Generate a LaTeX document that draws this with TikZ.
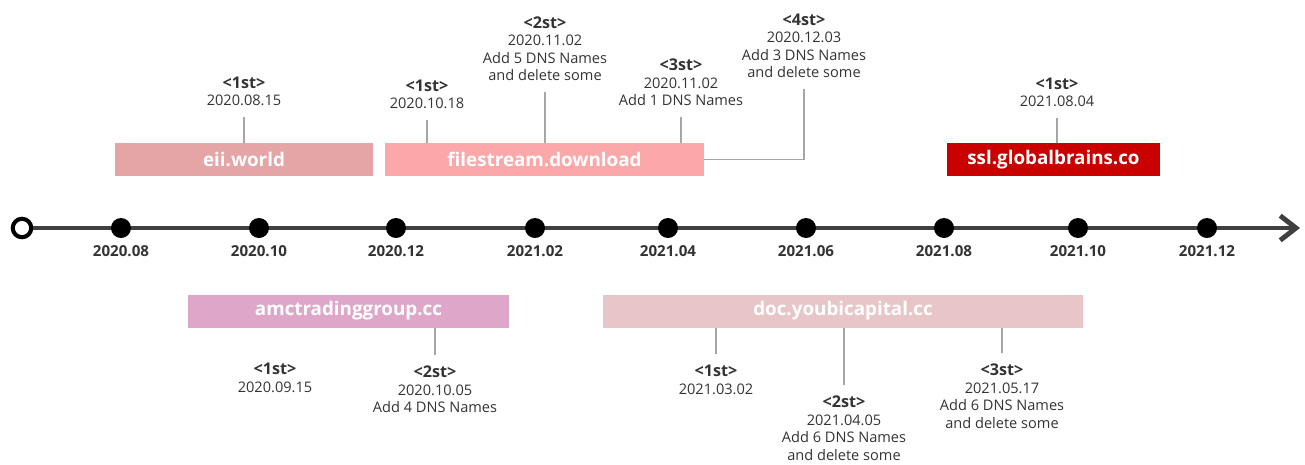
\documentclass[tikz,border=0pt]{standalone}
\usepackage{fontspec}
\setmainfont{Open Sans}
\usetikzlibrary{arrows.meta}

\definecolor{axisgray}{HTML}{404040}
\definecolor{tickgray}{HTML}{A6A6A6}
\definecolor{textgray}{HTML}{333333}
\definecolor{eiicol}{HTML}{E5A5A7}
\definecolor{fscol}{HTML}{FDA8A8}
\definecolor{sslcol}{HTML}{C80000}
\definecolor{amccol}{HTML}{DEA7C9}
\definecolor{doccol}{HTML}{E8C6C8}

\newcommand{\evhead}[1]{{\bfseries\fontsize{9.2}{10}\selectfont #1}}

\tikzset{
  domain/.style={fill=#1, text=white, inner sep=0pt, minimum height=0.66cm,
    font=\bfseries\fontsize{10.7}{12}\selectfont},
  event/.style={align=center, text=textgray, inner xsep=1pt, inner ysep=6pt,
    font=\fontsize{8.3}{10}\selectfont},
  tick/.style={draw=tickgray, line width=0.85pt},
  month/.style={circle, fill=black, inner sep=0pt, minimum size=0.4cm},
  monthlab/.style={text=textgray, inner sep=1pt, font=\bfseries\fontsize{8.6}{10}\selectfont}
}

\begin{document}
\begin{tikzpicture}[x=0.02cm, y=-0.02cm]

\path [use as bounding box] (0,0) rectangle (1305,464);

% AXIS
\node [circle, draw=black, fill=white, line width=2.3pt, inner sep=0pt, minimum size=0.37cm] (t0) at (22,228) {};
\coordinate (tend) at (1300,228);
\draw [axisgray, line width=2.8pt, -{Straight Barb[length=9pt, width=14pt]}] (t0) -- (tend);
\foreach \x/\m [count=\i] in {121/2020.08, 259/2020.10, 396/2020.12, 535/2021.02, 668/2021.04,
  806/2021.06, 944/2021.08, 1078/2021.10, 1207/2021.12}
  \node [month, label={[monthlab, label distance=3pt]below:\m}] (m\i) at (\x,228) {};

% DOMAINS
\node [domain=eiicol, minimum width=5.16cm] (eii) at (244,159.5) {eii.world};
\node [domain=fscol, minimum width=6.38cm] (fs) at (544.5,159.5) {filestream.download};
\node [domain=sslcol, minimum width=4.26cm] (ssl) at (1053.5,159.5) {ssl.globalbrains.co};
\node [domain=amccol, minimum width=6.42cm] (amc) at (348.5,311) {amctradinggroup.cc};
\node [domain=doccol, minimum width=9.6cm] (doc) at (843,311) {doc.youbicapital.cc};

% EVENTS ABOVE
\node [event, anchor=south] (eii1) at (244,117) {\evhead{<1st>}\\2020.08.15};
\node [event, anchor=south] (fs1) at (427,120) {\evhead{<1st>}\\2020.10.18};
\node [event, anchor=south] (fs2) at (545,92) {\evhead{<2st>}\\2020.11.02\\Add 5 DNS Names\\and delete some};
\node [event, anchor=south] (fs3) at (681,117) {\evhead{<3st>}\\2020.11.02\\Add 1 DNS Names};
\node [event, anchor=south] (fs4) at (804,89) {\evhead{<4st>}\\2020.12.03\\Add 3 DNS Names\\and delete some};
\node [event, anchor=south] (ssl1) at (1057,118) {\evhead{<1st>}\\2021.08.04};

\draw [tick] (eii1.south) -- (eii1.south |- eii.north);
\draw [tick] (fs1.south) -- (fs1.south |- fs.north);
\draw [tick] (fs2.south) -- (fs2.south |- fs.north);
\draw [tick] (fs3.south) -- (fs3.south |- fs.north);
\draw [tick] (fs.east) -| (fs4.south);
\draw [tick] (ssl1.south) -- (ssl1.south |- ssl.north);

% EVENTS BELOW
\node [event, anchor=north] (amc1) at (275,352) {\evhead{<1st>}\\2020.09.15};
\node [event, anchor=north] (amc2) at (435,355) {\evhead{<2st>}\\2020.10.05\\Add 4 DNS Names};
\node [event, anchor=north] (doc1) at (716,354) {\evhead{<1st>}\\2021.03.02};
\node [event, anchor=north] (doc2) at (844,385) {\evhead{<2st>}\\2021.04.05\\Add 6 DNS Names\\and delete some};
\node [event, anchor=north] (doc3) at (1002,353) {\evhead{<3st>}\\2021.05.17\\Add 6 DNS Names\\and delete some};

\draw [tick] (amc.south -| amc2.north) -- (amc2.north);
\draw [tick] (doc.south -| doc1.north) -- (doc1.north);
\draw [tick] (doc.south -| doc2.north) -- (doc2.north);
\draw [tick] (doc.south -| doc3.north) -- (doc3.north);

\end{tikzpicture}
\end{document}
